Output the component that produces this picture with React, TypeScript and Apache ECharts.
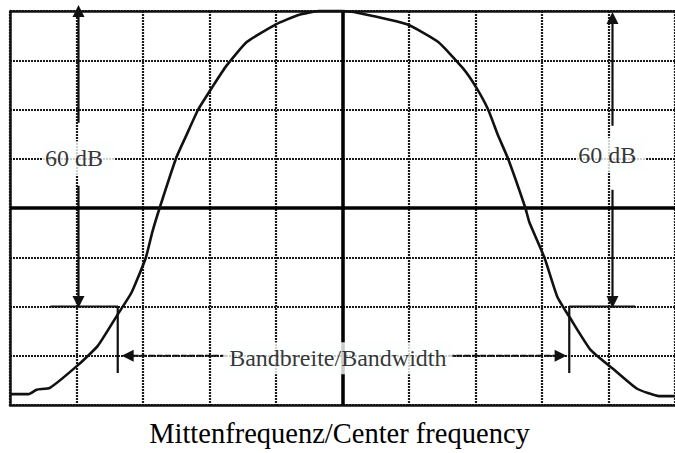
import React, { useEffect, useRef } from "react";
import * as echarts from "echarts";

// Horizontal axis: divisions from the center frequency; vertical axis: level in dB
const xMin = -5;
const xMax = 5;
const yMin = -80;
const yMax = 0;

// Filter response curve
const curveX = [-5.0, -4.72, -4.6, -4.4, -3.97, -3.68, -3.38, -3.17, -2.96, -2.86, -2.75, -2.5, -2.35, -2.17, -1.96, -1.75, -1.44, -1.0, -0.66, -0.36, 0, 0.24, 0.97, 1.44, 1.81, 2.01, 2.19, 2.34, 2.49, 2.75, 2.81, 3.04, 3.23, 3.43, 3.73, 4.09, 4.43, 4.76, 5.0];
const curveY = [-77.8, -77.8, -76.9, -76.5, -71.8, -68.0, -61.6, -57.1, -50.2, -44.9, -40.0, -29.8, -25.3, -20.0, -15.5, -11.2, -6.3, -2.7, -0.8, 0, 0, -0.4, -2.7, -6.3, -11.6, -15.5, -20.0, -25.3, -30.0, -40.0, -42.9, -50.2, -58.0, -62.5, -68.8, -72.9, -76.7, -78.2, -78.2];

// Annotation geometry (data units)
const leftArrowUp = [[-3.97, -22.7], [-3.97, 0]];
const leftArrowDown = [[-3.97, -35.5], [-3.97, -59.1]];
const rightArrowUp = [[4.06, -23.3], [4.06, -1.4]];
const rightArrowDown = [[4.06, -36.3], [4.06, -59.1]];
const leftBracket = [[-4.39, -60], [-3.38, -60], [-3.38, -73.5]];
const rightBracket = [[4.4, -60], [3.41, -60], [3.41, -73.5]];
const bwArrowLeft = [[-1.74, -70], [-3.23, -70]];
const bwArrowRight = [[1.59, -70], [3.28, -70]];

// Text labels
const labelTexts = ["60 dB", "60 dB", "Bandbreite/Bandwidth"];
const labelX = [-3.97, 4.04, -0.07];
const labelY = [-29.9, -29.2, -70.5];
const xAxisTitle = "Mittenfrequenz/Center frequency";

const INK = "#111";
const TEXT = "#000";
const SERIF = "'Liberation Serif', 'Times New Roman', serif";

function arrowSeries(points: number[][], rotate: number | null, dashed = false) {
  const data = points.map((p, i) => {
    const last = i === points.length - 1;
    if (last && rotate !== null) {
      return { value: p, symbol: "triangle", symbolSize: [12, 12], symbolRotate: rotate };
    }
    return { value: p, symbol: "none" };
  });
  return {
    type: "line",
    data,
    clip: false,
    showSymbol: true,
    showAllSymbol: true,
    silent: true,
    z: 4,
    lineStyle: { color: INK, width: 2.2, type: dashed ? [6, 2] : "solid" },
    itemStyle: { color: INK },
  };
}

export default function App() {
  const ref = useRef<HTMLDivElement>(null);
  useEffect(() => {
    const chart = echarts.init(ref.current!, undefined, { renderer: "svg" });
    const dotted = { color: "#1a1a1a", width: 2.2, type: [2, 1] };
    chart.setOption({
      animation: false,
      backgroundColor: "#fff",
      grid: { left: 10, top: 11, width: 668, height: 408 },
      xAxis: {
        type: "value",
        min: xMin,
        max: xMax,
        interval: 1,
        axisLine: { show: true, onZero: false, lineStyle: { color: INK, width: 2.5 } },
        axisTick: { show: false },
        axisLabel: { show: false },
        splitLine: { show: true, lineStyle: dotted },
        name: xAxisTitle,
        nameLocation: "middle",
        nameGap: 14,
        nameTextStyle: { fontFamily: SERIF, fontSize: 28.5, color: TEXT, verticalAlign: "top", padding: [0, 6, 0, 0] },
      },
      yAxis: {
        type: "value",
        min: yMin,
        max: yMax,
        interval: 10,
        axisLine: { show: true, onZero: false, lineStyle: { color: INK, width: 2.5 } },
        axisTick: { show: false },
        axisLabel: { show: false },
        splitLine: { show: true, lineStyle: dotted },
      },
      series: [
        {
          type: "line",
          data: [],
          silent: true,
          z: 3,
          markLine: {
            silent: true,
            symbol: "none",
            label: { show: false },
            data: [
              { yAxis: 0, lineStyle: { color: INK, width: 2.5, type: "solid" } },
              { yAxis: -40, lineStyle: { color: "#000", width: 3.5, type: "solid" } },
              { xAxis: 0, lineStyle: { color: "#000", width: 3.5, type: "solid" } },
            ],
          },
        },
        {
          type: "line",
          data: curveX.map((x, i) => [x, curveY[i]]),
          showSymbol: false,
          smooth: 0.15,
          clip: false,
          silent: true,
          z: 5,
          lineStyle: { color: "#111", width: 2.6 },
        },
        arrowSeries(leftArrowUp, 0),
        arrowSeries(leftArrowDown, 180),
        arrowSeries(rightArrowUp, 0),
        arrowSeries(rightArrowDown, 180),
        arrowSeries(leftBracket, null),
        arrowSeries(rightBracket, null),
        arrowSeries(bwArrowLeft, 90, true),
        arrowSeries(bwArrowRight, -90, true),
        {
          type: "scatter",
          silent: true,
          z: 10,
          symbol: "circle",
          symbolSize: 1,
          itemStyle: { color: "rgba(0,0,0,0)" },
          data: labelTexts.map((t, i) => ({
            name: t,
            value: [labelX[i], labelY[i]],
            label: {
              padding: i === 2 ? [4, 6, 4, 6] : i === 0 ? [5, 11, 5, 2] : [5, 10, 5, 2],
            },
          })),
          label: {
            show: true,
            position: "inside",
            formatter: "{b}",
            fontFamily: SERIF,
            fontSize: 24,
            color: TEXT,
            backgroundColor: "#fdfefe",
          },
        },
      ],
    });
    return () => chart.dispose();
  }, []);
  return (
    <div
      ref={ref}
      style={{ position: "fixed", left: 0, top: 0, width: 675, height: 453, background: "#fff" }}
    />
  );
}
